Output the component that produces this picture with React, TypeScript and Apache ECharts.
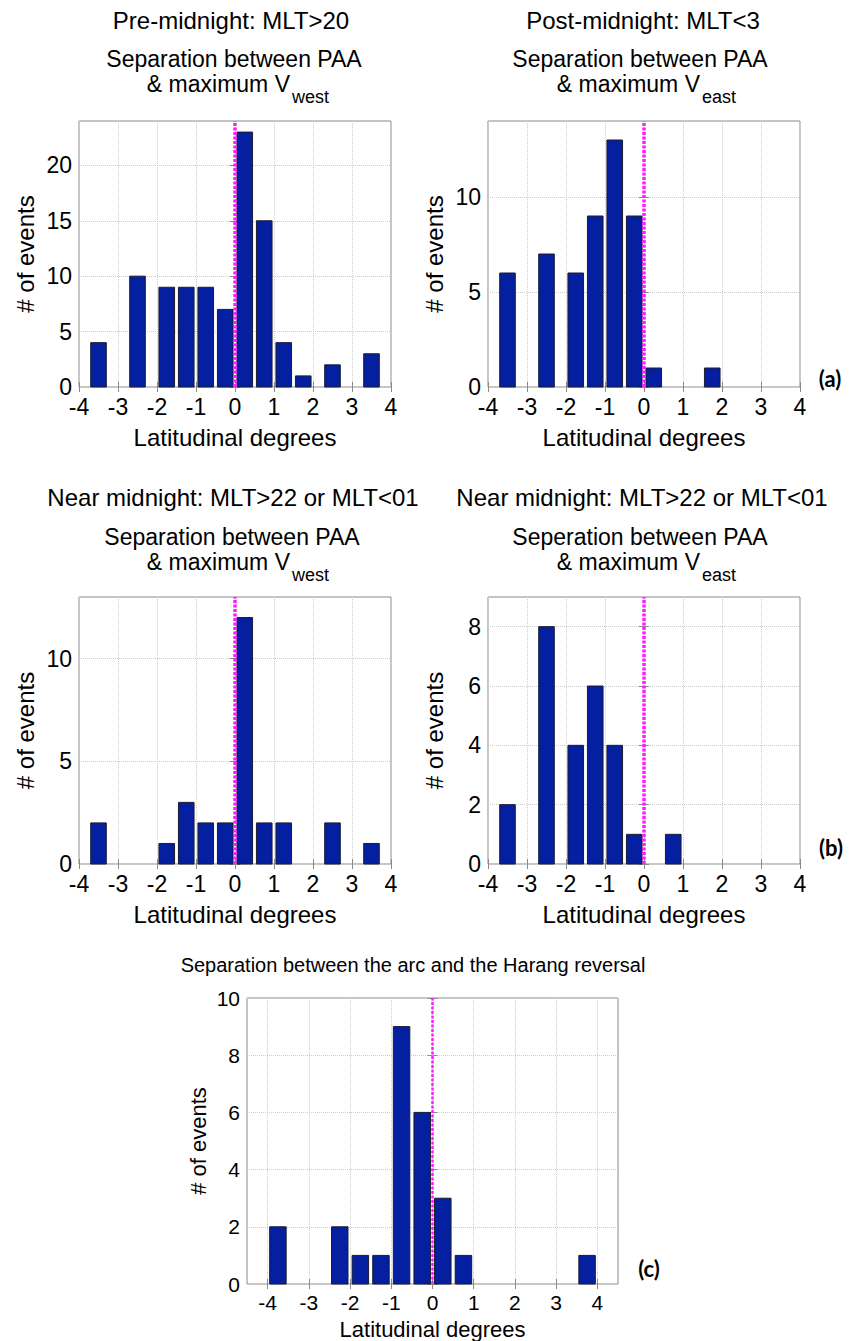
import React, { useEffect, useRef } from "react";
import * as echarts from "echarts";

const FONT = '"Liberation Sans", Arial, Helvetica, sans-serif';
const BAR_FILL = "#0420a0";
const BAR_EDGE = "#1c1c30";
const ZERO_LINE = "#ff1cff";
const BOX = "#8a8a8a";
const GRID_LINE = "#cdcdcd";
const BAR_HALF_WIDTH = 0.2; // bars span 0.4 latitudinal degrees

// Bin centres (latitudinal degrees) and event counts for each histogram
const preMidnightCenters = [-3.5, -2.5, -1.75, -1.25, -0.75, -0.25, 0.25, 0.75, 1.25, 1.75, 2.5, 3.5];
const preMidnightCounts = [4, 10, 9, 9, 9, 7, 23, 15, 4, 1, 2, 3];

const postMidnightCenters = [-3.5, -2.5, -1.75, -1.25, -0.75, -0.25, 0.25, 1.75];
const postMidnightCounts = [6, 7, 6, 9, 13, 9, 1, 1];

const nearWestCenters = [-3.5, -1.75, -1.25, -0.75, -0.25, 0.25, 0.75, 1.25, 2.5, 3.5];
const nearWestCounts = [2, 1, 3, 2, 2, 12, 2, 2, 2, 1];

const nearEastCenters = [-3.5, -2.5, -1.75, -1.25, -0.75, -0.25, 0.75];
const nearEastCounts = [2, 8, 4, 6, 4, 1, 1];

const harangCenters = [-3.75, -2.25, -1.75, -1.25, -0.75, -0.25, 0.25, 0.75, 3.75];
const harangCounts = [2, 2, 1, 1, 9, 6, 3, 1, 1];

// Tick labels
const latTicks = [-4, -3, -2, -1, 0, 1, 2, 3, 4];
const preMidnightYTicks = [0, 5, 10, 15, 20];
const postMidnightYTicks = [0, 5, 10];
const nearWestYTicks = [0, 5, 10];
const nearEastYTicks = [0, 2, 4, 6, 8];
const harangYTicks = [0, 2, 4, 6, 8, 10];

type Panel = {
  left: number;
  top: number;
  width: number;
  height: number;
  xMin: number;
  xMax: number;
  yMax: number;
  yTicks: number[];
  centers: number[];
  counts: number[];
  font: number;
  zeroWidth: number;
  xNameGap: number;
  yNameGap: number;
};

const panels: Panel[] = [
  { left: 79, top: 121, width: 312, height: 266, xMin: -4, xMax: 4, yMax: 24, yTicks: preMidnightYTicks,
    centers: preMidnightCenters, counts: preMidnightCounts, font: 23, zeroWidth: 3.5, xNameGap: 38, yNameGap: 42 },
  { left: 488, top: 121, width: 312, height: 266, xMin: -4, xMax: 4, yMax: 14, yTicks: postMidnightYTicks,
    centers: postMidnightCenters, counts: postMidnightCounts, font: 23, zeroWidth: 3.5, xNameGap: 38, yNameGap: 42 },
  { left: 79, top: 597, width: 312, height: 267, xMin: -4, xMax: 4, yMax: 13, yTicks: nearWestYTicks,
    centers: nearWestCenters, counts: nearWestCounts, font: 23, zeroWidth: 3.5, xNameGap: 38, yNameGap: 42 },
  { left: 488, top: 597, width: 312, height: 267, xMin: -4, xMax: 4, yMax: 9, yTicks: nearEastYTicks,
    centers: nearEastCenters, counts: nearEastCounts, font: 23, zeroWidth: 3.5, xNameGap: 38, yNameGap: 42 },
  { left: 247, top: 998, width: 371, height: 286, xMin: -4.5, xMax: 4.5, yMax: 10, yTicks: harangYTicks,
    centers: harangCenters, counts: harangCounts, font: 21, zeroWidth: 2.5, xNameGap: 34, yNameGap: 38 },
];

function text(x: number, y: number, str: string, size: number, align = "center", weight = "normal", family = FONT) {
  return {
    type: "text",
    x,
    y,
    silent: true,
    style: {
      text: str,
      fontSize: size,
      fontFamily: family,
      fontWeight: weight,
      fill: "#000",
      textAlign: align,
      textVerticalAlign: "middle",
    },
  };
}

function buildOption() {
  const grid: any[] = [];
  const xAxis: any[] = [];
  const yAxis: any[] = [];
  const series: any[] = [];

  panels.forEach((p, i) => {
    grid.push({
      left: p.left,
      top: p.top,
      width: p.width,
      height: p.height,
      show: true,
      borderColor: BOX,
      borderWidth: 1,
      backgroundColor: "#ffffff",
      containLabel: false,
      outerBoundsMode: "none",
    });

    const labelStyle = { fontSize: p.font, fontFamily: FONT, color: "#000" };
    const tick = { show: true, inside: true, length: 5, lineStyle: { color: BOX, width: 1 } };

    xAxis.push({
      type: "value",
      gridIndex: i,
      position: "bottom",
      min: p.xMin,
      max: p.xMax,
      axisLine: { show: false },
      axisTick: { ...tick, customValues: latTicks },
      axisLabel: { ...labelStyle, margin: 8, customValues: latTicks, formatter: (v: number) => String(v) },
      splitLine: { show: true, lineStyle: { color: GRID_LINE, type: "dotted", width: 1 } },
      name: "Latitudinal degrees",
      nameLocation: "middle",
      nameGap: p.xNameGap,
      nameTextStyle: { fontSize: p.font + 1, fontFamily: FONT, color: "#000" },
    });
    xAxis.push({
      type: "value",
      gridIndex: i,
      position: "top",
      min: p.xMin,
      max: p.xMax,
      axisLine: { show: false },
      axisTick: { ...tick, customValues: latTicks },
      axisLabel: { show: false },
      splitLine: { show: false },
    });

    yAxis.push({
      type: "value",
      gridIndex: i,
      position: "left",
      min: 0,
      max: p.yMax,
      axisLine: { show: false },
      axisTick: { ...tick, customValues: p.yTicks },
      axisLabel: { ...labelStyle, margin: 7, customValues: p.yTicks },
      splitLine: { show: true, lineStyle: { color: GRID_LINE, type: "dotted", width: 1 } },
      name: "# of events",
      nameLocation: "middle",
      nameGap: p.yNameGap,
      nameTextStyle: { fontSize: p.font + 1, fontFamily: FONT, color: "#000" },
    });
    yAxis.push({
      type: "value",
      gridIndex: i,
      position: "right",
      min: 0,
      max: p.yMax,
      axisLine: { show: false },
      axisTick: { ...tick, customValues: p.yTicks },
      axisLabel: { show: false },
      splitLine: { show: false },
    });

    const zeroStyle = { color: ZERO_LINE, type: [3, 1.5], width: p.zeroWidth, opacity: 1 };

    series.push({
      type: "custom",
      xAxisIndex: 2 * i,
      yAxisIndex: 2 * i,
      data: p.centers.map((c, k) => [c, p.counts[k]]),
      encode: { x: 0, y: 1 },
      renderItem: (_params: any, api: any) => {
        const c = api.value(0);
        const n = api.value(1);
        const topLeft = api.coord([c - BAR_HALF_WIDTH, n]);
        const bottomRight = api.coord([c + BAR_HALF_WIDTH, 0]);
        return {
          type: "rect",
          shape: {
            x: topLeft[0],
            y: topLeft[1],
            width: bottomRight[0] - topLeft[0],
            height: bottomRight[1] - topLeft[1],
          },
          style: { fill: BAR_FILL, stroke: BAR_EDGE, lineWidth: 1 },
        };
      },
      markLine: {
        silent: true,
        symbol: ["none", "none"],
        label: { show: false },
        emphasis: { disabled: true },
        lineStyle: zeroStyle,
        data: [{ xAxis: 0, lineStyle: zeroStyle }],
      },
    });
  });

  const graphic: any[] = [
    // (a) pre-midnight, westward flow
    text(231, 20, "Pre-midnight: MLT>20", 24),
    text(234, 59, "Separation between PAA", 23),
    text(290, 84, "& maximum V", 23, "right"),
    text(292, 97, "west", 18, "left"),
    // (a) post-midnight, eastward flow
    text(643, 20, "Post-midnight: MLT<3", 24),
    text(640, 59, "Separation between PAA", 23),
    text(700, 84, "& maximum V", 23, "right"),
    text(702, 97, "east", 18, "left"),
    text(830, 378, "(a)", 22, "center", "bold", "Lato, sans-serif"),
    // (b) near midnight
    text(233, 497, "Near midnight: MLT>22 or MLT<01", 24),
    text(232, 537, "Separation between PAA", 23),
    text(290, 562, "& maximum V", 23, "right"),
    text(292, 575, "west", 18, "left"),
    text(642, 497, "Near midnight: MLT>22 or MLT<01", 24),
    text(640, 537, "Seperation between PAA", 23),
    text(700, 562, "& maximum V", 23, "right"),
    text(702, 575, "east", 18, "left"),
    text(831, 847, "(b)", 22, "center", "bold", "Lato, sans-serif"),
    // (c) arc vs Harang reversal
    text(413, 965, "Separation between the arc and the Harang reversal", 20),
    text(649, 1268, "(c)", 22, "center", "bold", "Lato, sans-serif"),
  ];

  return {
    animation: false,
    backgroundColor: "#ffffff",
    grid,
    xAxis,
    yAxis,
    series,
    graphic,
  };
}

export default function App() {
  const ref = useRef<HTMLDivElement>(null);

  useEffect(() => {
    if (!ref.current) return;
    const chart = echarts.init(ref.current, undefined, { renderer: "svg" });
    chart.setOption(buildOption() as any);
    return () => chart.dispose();
  }, []);

  return (
    <div
      ref={ref}
      style={{ position: "absolute", left: 0, top: 0, width: 851, height: 1341, background: "#ffffff" }}
    />
  );
}
